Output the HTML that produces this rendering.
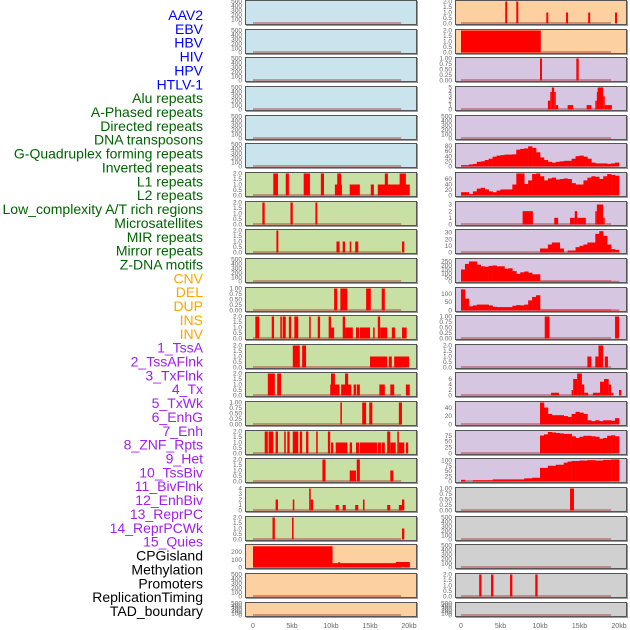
<!DOCTYPE html>
<html><head><meta charset="utf-8"><style>
body{margin:0;background:#fff;}
svg{display:block;font-family:"Liberation Sans",sans-serif;}
</style></head><body>
<svg id="c" width="630" height="630" viewBox="0 0 630 630"></svg>
<script>
const labels=["AAV2","EBV","HBV","HIV","HPV","HTLV-1","Alu repeats","A-Phased repeats","Directed repeats","DNA transposons","G-Quadruplex forming repeats","Inverted repeats","L1 repeats","L2 repeats","Low_complexity A/T rich regions","Microsatellites","MIR repeats","Mirror repeats","Z-DNA motifs","CNV","DEL","DUP","INS","INV","1_TssA","2_TssAFlnk","3_TxFlnk","4_Tx","5_TxWk","6_EnhG","7_Enh","8_ZNF_Rpts","9_Het","10_TssBiv","11_BivFlnk","12_EnhBiv","13_ReprPC","14_ReprPCWk","15_Quies","CPGisland","Methylation","Promoters","ReplicationTiming","TAD_boundary"];
const xTicks=[0,5,10,15,20];
const xTickLabels=["0","5kb","10kb","15kb","20kb"];
const T500=["0","100","200","300","400","500"];
const T2=["0.0","0.5","1.0","1.5","2.0"];
const T1=["0.00","0.25","0.50","0.75","1.00"];
// bars: [startKb,endKb,value]
const L6=[[2.6,3.2,2],[4.2,4.6,2],[6.5,7.3,2],[8.7,9.1,2],[10.5,11.4,1],[10.8,11.3,2],[12.4,13.7,1],[15.1,15.5,1],[16.0,20.1,1],[16.9,17.3,2],[18.8,19.6,2]];
const L7=[[1.2,1.5,2],[4.8,5.1,2],[8.0,8.25,2]];
const L8=[[3.0,3.25,2],[10.7,11.1,1],[11.5,11.8,1],[12.4,12.6,1],[13.1,13.5,1],[19.1,19.4,1]];
const L10=[[10.4,10.8,1],[11.2,12.1,1],[14.5,15.1,1],[16.5,16.9,1]];
const L11=[[0.3,0.8,2],[2.4,2.7,2],[3.5,3.7,2],[3.8,4.2,2],[4.6,4.9,2],[5.3,5.8,2],[7.2,7.4,2],[8.3,8.6,2],[9.7,10.0,2],[10.0,10.4,1],[11.5,11.8,2],[11.8,12.8,1],[13.2,13.6,1],[13.7,15.0,1],[15.4,15.6,1],[16.0,16.3,2],[16.3,17.2,1],[17.8,18.2,1],[19.1,19.7,1]];
const L12=[[5.1,6.0,2],[6.3,6.8,2],[15.0,17.2,1],[17.4,17.8,1],[18.1,20.0,1]];
const L13=[[1.9,2.8,2],[3.1,3.6,2],[9.9,11.1,1],[10.0,10.5,2],[11.3,12.6,1],[11.8,12.2,2],[12.9,13.2,1],[13.3,13.7,1],[16.2,16.9,1],[17.6,18.1,1],[19.6,20.1,1]];
const L14=[[11.2,11.4,1],[14.0,14.5,1],[14.9,15.3,1],[18.7,19.1,1]];
const L15=[[1.5,1.9,2],[2.0,2.6,2],[2.9,3.2,2],[4.0,4.2,2],[4.4,4.7,2],[5.1,5.8,2],[6.0,6.3,2],[6.8,7.1,2],[8.1,8.3,2],[9.6,9.9,2],[10.0,10.3,1],[10.6,12.1,1],[12.4,12.7,1],[13.2,13.6,1],[13.7,15.9,1],[16.0,16.4,1],[16.5,16.9,1],[17.2,17.6,2],[17.6,18.3,1],[18.5,18.7,2],[18.7,19.4,1],[19.6,19.9,1]];
const L16=[[8.9,9.3,2],[12.4,13.2,1],[13.3,13.7,2],[17.6,18.0,1]];
const L17=[[2.9,3.2,2],[5.1,5.3,2],[7.2,7.4,4],[7.4,7.7,2],[10.6,11.0,1],[11.5,11.9,1],[13.1,13.5,1],[14.1,14.3,2],[17.2,17.6,1],[18.7,19.1,1],[19.1,19.4,2]];
const L18=[[2.5,2.8,2],[5.0,5.2,2],[19.1,19.4,1]];
const L19=[[0,10.2,270],[10.2,20.1,55],[10.9,11.2,65],[18.3,20.1,70]];
const R0=[[5.6,5.85,2],[7.0,7.25,2],[10.8,11.05,1],[13.3,13.55,1],[16.1,16.35,1],[19.5,19.75,1]];
const R1=[[0,10.1,2]];
const R2=[[10.0,10.25,1],[14.6,14.9,1]];
const R3=[[11.0,11.3,2],[11.3,11.5,4],[11.5,11.8,5],[11.8,12.0,4],[12.0,12.3,1],[13.5,14.2,1],[15.9,16.5,1],[17.0,17.2,2],[17.2,17.3,4],[17.3,18.0,5],[18.0,18.2,3],[18.2,18.5,1],[18.5,19.1,1]];
const R7=[[7.8,9.1,2],[11.8,12.3,1],[13.8,14.4,1],[14.4,14.7,2],[14.7,15.8,1],[17.0,17.2,2],[17.2,18.0,3],[18.0,18.2,1]];
const R11=[[10.6,11.2,1],[19.5,20.0,1]];
const R12=[[16.0,16.5,1],[17.0,17.4,1],[17.4,18.0,2],[18.2,18.6,1]];
const R13=[[11.4,12.4,1],[14.0,14.2,2],[14.2,14.7,6],[14.7,15.3,8],[15.3,15.6,4],[15.6,16.1,1],[16.7,17.6,1],[17.6,18.1,5],[18.1,18.7,6],[18.7,19.0,4],[19.0,19.3,1],[20.0,20.3,2]];
const R17=[[13.8,14.3,1]];
const R20=[[2.3,2.6,2],[3.8,4.1,2],[6.2,6.5,2],[9.4,9.7,2]];
// binned area series: 0.5kb bins from 0 to 20kb
const R5=[5,5,8,10,18,20,25,30,38,42,44,46,46,47,65,68,70,78,72,55,35,25,18,15,18,20,22,22,30,40,42,38,30,15,12,12,12,10,12,15];
const R6=[12,12,5,15,25,28,22,15,12,18,22,22,22,40,80,80,42,55,78,80,70,55,62,65,58,60,62,60,45,40,40,55,65,70,68,60,70,78,75,72];
const R8=[0,0,0,0,0,0,0,0,0,0,0,0,0,0,0,0,0,0,0,0,6,6,12,15,15,6,0,3,3,8,10,12,15,15,28,32,25,12,5,4];
const R9=[150,220,250,250,210,190,185,195,200,190,190,160,165,130,95,115,125,110,90,90,8,8,8,8,8,8,8,8,8,8,8,8,8,8,8,8,8,8,8,8];
const R10=[125,70,25,30,35,35,35,30,22,20,20,20,20,28,32,30,35,60,80,90,5,5,5,5,5,5,5,5,5,5,5,5,5,5,5,5,5,5,5,5];
const R14=[0,0,0,0,0,0,0,0,0,0,0,0,0,0,0,0,0,0,0,0,52,40,25,22,22,22,20,18,25,30,28,25,10,8,10,8,10,10,9,15];
const R15=[0,0,0,0,0,0,0,0,0,0,0,0,0,0,0,0,0,0,0,0,75,80,90,88,86,84,82,82,72,65,70,74,74,72,70,62,65,74,76,72];
const R16=[8,0,0,6,6,6,6,6,10,10,10,10,10,10,10,10,15,15,18,18,65,65,75,75,80,80,90,95,98,98,100,100,102,102,100,100,103,103,105,105];

const BLUE="#c9e4ec",GREEN="#c8e0a4",PEACH="#fdd0a2",PURP="#d6c6e2",GRAY="#d0d0d0";
const panelsCfg=[
[0,0,BLUE,500,T500,null,null],[1,0,BLUE,500,T500,null,null],[2,0,BLUE,500,T500,null,null],[3,0,BLUE,500,T500,null,null],[4,0,BLUE,500,T500,null,null],[5,0,BLUE,500,T500,null,null],
[6,0,GREEN,2,T2,L6,null],[7,0,GREEN,2,T2,L7,null],[8,0,GREEN,2,T2,L8,null],[9,0,GREEN,500,T500,null,null],[10,0,GREEN,1,T1,L10,null],[11,0,GREEN,2,T2,L11,null],[12,0,GREEN,2,T2,L12,null],[13,0,GREEN,2,T2,L13,null],[14,0,GREEN,1,T1,L14,null],[15,0,GREEN,2,T2,L15,null],[16,0,GREEN,2,T2,L16,null],[17,0,GREEN,4,["0","1","2","3","4"],L17,null],[18,0,GREEN,2,T2,L18,null],
[19,0,PEACH,280,["0","100","200"],L19,null],[20,0,PEACH,500,T500,null,null],[21,0,PEACH,500,T500,null,null],
[0,1,PEACH,2,T2,R0,null],[1,1,PEACH,2,T2,R1,null],[2,1,PURP,1,T1,R2,null],[3,1,PURP,5,["0","1","2","3","4","5"],R3,null],[4,1,PURP,500,T500,null,null],
[5,1,PURP,85,["0","20","40","60","80"],null,R5],[6,1,PURP,80,["0","20","40","60"],null,R6],[7,1,PURP,3.3,["0","1","2","3"],R7,null],[8,1,PURP,33,["0","10","20","30"],null,R8],
[9,1,PURP,275,["0","50","100","150","200","250"],null,R9],[10,1,PURP,130,["0","50","100"],null,R10],[11,1,PURP,1,T1,R11,null],[12,1,PURP,2,T2,R12,null],[13,1,PURP,8,["0","2","4","6"],R13,null],
[14,1,PURP,52,["0","20","40"],null,R14],[15,1,PURP,92,["0","25","50","75"],null,R15],[16,1,PURP,105,["0","25","50","75","100"],null,R16],
[17,1,GRAY,1,T1,R17,null],[18,1,GRAY,500,T500,null,null],[19,1,GRAY,500,T500,null,null],[20,1,GRAY,2,T2,R20,null],[21,1,GRAY,500,T500,null,null]
];
const NS="http://www.w3.org/2000/svg";
const svg=document.getElementById('c');
function mk(tag,attrs,parent){const e=document.createElementNS(NS,tag);for(const k in attrs)e.setAttribute(k,attrs[k]);(parent||svg).appendChild(e);return e;}
function colX(col){return col===0?245:455;}
function xScale(col,kb){return col===0?253+kb*7.8:461+kb*7.9;}
function rowTop(r){return Math.round(r*28.65);}
function rowH(r){return r===21?15:25;}

labels.forEach((t,i)=>{
  let c="#000";
  if(i<6)c="#0000ff";else if(i<19)c="#006400";else if(i<24)c="#ffa500";else if(i<39)c="#a020f0";
  const el=mk('text',{x:203,y:15+i*13.86+5,'text-anchor':'end','font-size':14,fill:c});
  
  
  el.textContent=t;
});

panelsCfg.forEach((p,pi)=>{
  const [r,col,bg,ymax,ticks,bars,bins]=p;
  const x0=colX(col),top=rowTop(r),h=rowH(r),w=172;
  const g=mk('g',{});
  
  
  const cid='clip'+pi;
  const cp=mk('clipPath',{id:cid},g);mk('rect',{x:x0,y:top,width:w,height:h},cp);
  const bgR=mk('rect',{x:x0+1,y:top+1,width:w,height:h,fill:'#999'},g);
  
  
  const fr=mk('rect',{x:x0+0.5,y:top+0.5,width:w-1,height:h-1,fill:bg,stroke:'#555','stroke-width':1},g);
  
  
  const bot=top+h-1.5, ph=h-3;
  const yS=v=>bot-Math.min(v,ymax)/ymax*ph;
  const dg=mk('g',{'clip-path':'url(#'+cid+')'},g);
  const bl=mk('line',{x1:xScale(col,0),x2:xScale(col,19),y1:bot-0.5,y2:bot-0.5,stroke:'rgba(170,40,40,0.55)','stroke-width':1.5},dg);
  
  
  if(bars){bars.forEach(b=>{
    const xa=xScale(col,b[0]),xb=xScale(col,b[1]);
    const y=yS(b[2]);
    const rc=mk('rect',{x:xa,y:y,width:Math.max(1.2,xb-xa),height:bot-y,fill:'#ff0000'},dg);
    
    
  });}
  if(bins){bins.forEach((v,i)=>{
    if(v<=0)return;
    const xa=xScale(col,i*0.5),xb=xScale(col,(i+1)*0.5);
    const y=yS(v);
    const rc=mk('rect',{x:xa,y:y,width:xb-xa+0.3,height:bot-y,fill:'#ff0000'},dg);
    
    
  });}
  ticks.forEach((t,i)=>{
    const v=parseFloat(t);
    const tx=mk('text',{x:x0-3,y:yS(v)+2.2,'text-anchor':'end','font-size':6.5,fill:'#666'},g);
    
    
    tx.textContent=t;
  });
});
[0,1].forEach(col=>{
  xTicks.forEach((k,i)=>{
    const tx=mk('text',{x:xScale(col,k),y:628,'text-anchor':'middle','font-size':7,fill:'#666'});
    
    
    tx.textContent=xTickLabels[i];
  });
});
</script>
</body></html>
